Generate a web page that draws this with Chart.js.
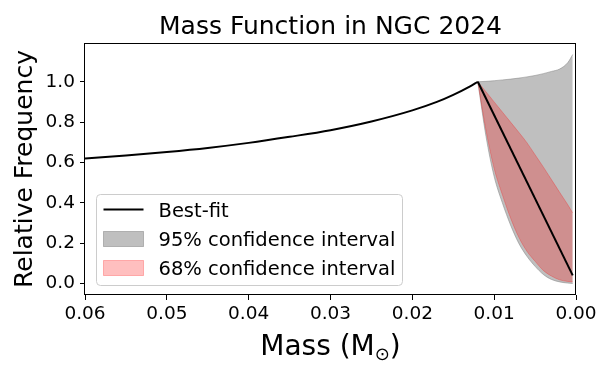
<!DOCTYPE html>
<html>
<head>
<meta charset="utf-8">
<script src="https://cdn.jsdelivr.net/npm/chart.js@4"></script>
<style>
  html, body { margin: 0; padding: 0; background: #fff; }
  #wrap { width: 613px; height: 375px; position: relative; }
</style>
</head>
<body>
<div id="wrap"><canvas id="massChart"></canvas></div>
<script>
// Mass function in NGC 2024

// best-fit, rising part (mass in Msun, decreasing to the right)
const massCurve = [0.06, 0.055, 0.05, 0.045, 0.04, 0.035, 0.03, 0.025, 0.02, 0.017, 0.015, 0.013, 0.012];
const freqCurve = [0.620, 0.635, 0.652, 0.672, 0.697, 0.727, 0.760, 0.803, 0.858, 0.900, 0.935, 0.976, 1.000];

// best-fit, straight drop after the turnover
const massDrop = [0.012, 0.0004];
const freqDrop = [1.0, 0.04];

// confidence bands below the turnover
const massBand = [0.012, 0.011, 0.010, 0.009, 0.008, 0.007, 0.006, 0.005, 0.004, 0.003, 0.002, 0.001, 0.0004];
const upper95  = [1.000, 1.002, 1.005, 1.009, 1.013, 1.018, 1.024, 1.031, 1.040, 1.051, 1.063, 1.095, 1.135];
const lower95  = [1.000, 0.730, 0.530, 0.400, 0.290, 0.200, 0.135, 0.085, 0.045, 0.020, 0.008, 0.002, 0.000];
const upper68  = [1.000, 0.950, 0.900, 0.850, 0.800, 0.750, 0.698, 0.638, 0.578, 0.515, 0.452, 0.390, 0.350];
const lower68  = [1.000, 0.760, 0.570, 0.440, 0.325, 0.230, 0.160, 0.110, 0.065, 0.037, 0.018, 0.010, 0.008];

const xTicks = [0.06, 0.05, 0.04, 0.03, 0.02, 0.01, 0.00];
const yTicks = [0.0, 0.2, 0.4, 0.6, 0.8, 1.0];

const FONT = "'DejaVu Sans', sans-serif";
const GRAY = "rgba(128, 128, 128, 0.5)";
const RED = "rgba(255, 0, 0, 0.25)";

function toPoints(xs, ys) {
  return xs.map((x, i) => ({ x: x, y: ys[i] }));
}

// frame, legend, title and x label (with the subscript sun symbol)
const extras = {
  id: "extras",
  afterDatasetsDraw(chart) {
    const { ctx, chartArea: ca } = chart;
    ctx.save();
    ctx.strokeStyle = "#000";
    ctx.lineWidth = 1;
    const l = Math.round(ca.left) - 0.5, t = Math.round(ca.top) + 0.5;
    const r = Math.round(ca.right) - 0.5, b = Math.round(ca.bottom) - 0.5;
    ctx.strokeRect(l, t, r - l, b - t);

    // legend box (lower left)
    const bx = ca.left + 11.5, by = ca.bottom - 100.5, bw = 306, bh = 91;
    ctx.beginPath();
    ctx.roundRect(bx, by, bw, bh, 4);
    ctx.fillStyle = "rgba(255, 255, 255, 0.8)";
    ctx.fill();
    ctx.strokeStyle = "#cccccc";
    ctx.stroke();

    const hx = bx + 7, hw = 40;
    // best-fit handle
    ctx.beginPath();
    ctx.moveTo(hx, by + 15);
    ctx.lineTo(hx + hw, by + 15);
    ctx.strokeStyle = "#000";
    ctx.lineWidth = 2;
    ctx.stroke();
    // patches
    ctx.lineWidth = 1;
    ctx.fillStyle = GRAY; ctx.strokeStyle = GRAY;
    ctx.fillRect(hx, by + 37, hw, 15);
    ctx.strokeRect(hx, by + 37, hw, 15);
    ctx.fillStyle = RED; ctx.strokeStyle = RED;
    ctx.fillRect(hx, by + 66, hw, 15);
    ctx.strokeRect(hx, by + 66, hw, 15);

    ctx.fillStyle = "#000";
    ctx.font = "19.5px " + FONT;
    ctx.textAlign = "left";
    ctx.textBaseline = "alphabetic";
    ctx.fillText("Best-fit", bx + 62, by + 22);
    ctx.fillText("95% confidence interval", bx + 62, by + 51.5);
    ctx.fillText("68% confidence interval", bx + 62, by + 80.5);
    ctx.restore();
  },
  afterDraw(chart) {
    const { ctx, chartArea: ca } = chart;
    const cx = (ca.left + ca.right) / 2;
    ctx.save();
    ctx.fillStyle = "#000";
    ctx.textBaseline = "alphabetic";

    // title, centred over the axes
    ctx.textAlign = "center";
    ctx.font = "25px " + FONT;
    ctx.fillText("Mass Function in NGC 2024", cx, 33.5);

    // x axis label
    ctx.textAlign = "left";
    ctx.font = "28px " + FONT;
    const w1 = ctx.measureText("Mass (M").width;
    const w3 = ctx.measureText(")").width;
    ctx.font = "18px " + FONT;
    const w2 = ctx.measureText("\u2299").width;
    let x = cx - (w1 + w2 + w3) / 2;
    const base = 355;
    ctx.font = "28px " + FONT;
    ctx.fillText("Mass (M", x, base);
    x += w1;
    ctx.font = "18px " + FONT;
    ctx.fillText("\u2299", x, base + 5);
    x += w2;
    ctx.font = "28px " + FONT;
    ctx.fillText(")", x, base);
    ctx.restore();
  }
};

const ctx = document.getElementById("massChart").getContext("2d");

new Chart(ctx, {
  type: "line",
  data: {
    datasets: [
      {
        label: "Best-fit",
        data: toPoints(massCurve, freqCurve),
        borderColor: "#000",
        borderWidth: 2,
        cubicInterpolationMode: "monotone",
        pointRadius: 0,
        fill: false
      },
      {
        label: "Best-fit drop",
        data: toPoints(massDrop, freqDrop),
        borderColor: "#000",
        borderWidth: 2,
        pointRadius: 0,
        fill: false
      },
      {
        label: "68% confidence interval",
        data: toPoints(massBand, upper68),
        borderColor: RED,
        backgroundColor: RED,
        borderWidth: 1,
        cubicInterpolationMode: "monotone",
        pointRadius: 0,
        fill: "+1"
      },
      {
        label: "68% lower",
        data: toPoints(massBand, lower68),
        borderColor: RED,
        borderWidth: 1,
        cubicInterpolationMode: "monotone",
        pointRadius: 0,
        fill: false
      },
      {
        label: "95% confidence interval",
        data: toPoints(massBand, upper95),
        borderColor: GRAY,
        backgroundColor: GRAY,
        borderWidth: 1,
        cubicInterpolationMode: "monotone",
        pointRadius: 0,
        fill: "+1"
      },
      {
        label: "95% lower",
        data: toPoints(massBand, lower95),
        borderColor: GRAY,
        borderWidth: 1,
        cubicInterpolationMode: "monotone",
        pointRadius: 0,
        fill: false
      }
    ]
  },
  options: {
    responsive: true,
    maintainAspectRatio: false,
    animation: false,
    layout: { padding: { left: 0, right: 37, top: 43, bottom: 0 } },
    scales: {
      x: {
        type: "linear",
        reverse: true,
        min: 0,
        max: 0.06,
        afterBuildTicks: (scale) => {
          scale.ticks = xTicks.map((v) => ({ value: v }));
        },
        afterFit: (scale) => { scale.height = 80; },
        ticks: {
          autoSkip: false,
          maxRotation: 0,
          padding: 3,
          color: "#000",
          font: { family: FONT, size: 18.5 },
          callback: (value) => value.toFixed(2)
        },
        grid: { drawOnChartArea: false, drawTicks: true, tickLength: 5, color: "#000" },
        border: { display: false },
        title: { display: false }
      },
      y: {
        type: "linear",
        min: -0.057,
        max: 1.192,
        afterBuildTicks: (scale) => {
          scale.ticks = yTicks.map((v) => ({ value: v }));
        },
        afterFit: (scale) => { scale.width = 85; },
        ticks: {
          padding: 5,
          color: "#000",
          font: { family: FONT, size: 18.5 },
          callback: (value) => value.toFixed(1)
        },
        grid: { drawOnChartArea: false, drawTicks: true, tickLength: 5, color: "#000" },
        border: { display: false },
        title: {
          display: true,
          text: "Relative Frequency",
          color: "#000",
          font: { family: FONT, size: 25 },
          padding: { top: 10.2, bottom: 0 }
        }
      }
    },
    plugins: {
      legend: { display: false },
      tooltip: { enabled: false },
      title: { display: false }
    }
  },
  plugins: [extras]
});
</script>
</body>
</html>
